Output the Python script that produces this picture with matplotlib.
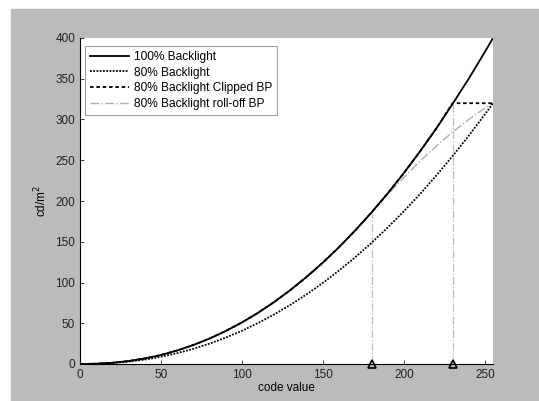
import matplotlib
matplotlib.use("Agg")
import matplotlib.pyplot as plt
from matplotlib.patches import Rectangle

plt.rcParams['font.family'] = ['Liberation Sans', 'DejaVu Sans']

# code values and luminance readings (cd/m^2)
code = [0, 10, 20, 30, 40, 50, 60, 70, 80, 90, 100, 110, 120, 130,
        140, 150, 160, 170, 180, 190, 200, 210, 220, 230, 240, 250, 255]
full = [0, 0.3, 1.5, 3.6, 6.8, 11, 16.6, 23.3, 31.2, 40.5, 51, 62.9, 76.2, 90.9,
        107, 124.5, 143.5, 164, 186, 209.4, 234.4, 261, 289, 319, 350, 383, 400]
dim80 = [0, 0.25, 1.2, 2.9, 5.4, 8.9, 13.3, 18.6, 25, 32.4, 40.8, 50.3, 61, 72.7,
         85.6, 99.6, 114.8, 131.1, 148.7, 167.5, 187.5, 208.7, 231.3, 255, 280, 306.3, 320]
clipped = [0, 0.3, 1.5, 3.6, 6.8, 11, 16.6, 23.3, 31.2, 40.5, 51, 62.9, 76.2, 90.9,
           107, 124.5, 143.5, 164, 186, 209.4, 234.4, 261, 289, 320, 320, 320, 320]
rolloff = [0, 0.3, 1.5, 3.6, 6.8, 11, 16.6, 23.3, 31.2, 40.5, 51, 62.9, 76.2, 90.9,
           107, 124.5, 143.5, 164, 186, 208, 229, 249, 267.5, 284.5, 300, 314, 320]

knee_code = [180, 230]
knee_val = [186, 320]

fig = plt.figure(figsize=(5.39, 4.01), dpi=100)
fig.patches.append(Rectangle((11 / 539, 0), 1, (401 - 9) / 401,
                             transform=fig.transFigure, color='#bbbbbb', zorder=-1))
ax = fig.add_axes([80 / 539, 37 / 401, 413 / 539, 326 / 401])

ax.plot(code, rolloff, color='#b0b0b0', lw=1.0, linestyle='-.', label='80% Backlight roll-off BP', zorder=1)
ax.plot(code, clipped, color='black', lw=1.3, linestyle=(0, (2, 1.5)), label='80% Backlight Clipped BP', zorder=2)
ax.plot(code, dim80, color='black', lw=1.3, linestyle=(0, (1, 0.8)), label='80% Backlight', zorder=2)
ax.plot(code, full, '-', color='black', lw=1.3, label='100% Backlight', zorder=3)

for xk, yk in zip(knee_code, knee_val):
    ax.plot([xk, xk], [0, yk], color='#c0c0c0', lw=0.9, linestyle='-.', zorder=0)
    ax.plot(xk, 0, marker='^', ms=6, mfc='none', mec='black', mew=1.2, clip_on=False)

ax.set_xlim(0, 255)
ax.set_ylim(0, 400)
ax.set_xticks([0, 50, 100, 150, 200, 250])
ax.set_yticks(range(0, 401, 50))
ax.spines['top'].set_visible(False)
ax.spines['right'].set_visible(False)
ax.tick_params(direction='in', length=3, labelsize=8.5, width=0.6, colors='#222222')
ax.set_xlabel('code value', fontsize=8.5, labelpad=1)
ax.set_ylabel('cd/m$^2$', fontsize=8.5, labelpad=4)

handles, labels = ax.get_legend_handles_labels()
leg = ax.legend(handles[::-1], labels[::-1], loc='upper left', fontsize=8.6, fancybox=False,
                handlelength=3.3, borderpad=0.4, labelspacing=0.32, handletextpad=0.4,
                borderaxespad=0, bbox_to_anchor=(5 / 413, 1 - 8 / 326))
leg.get_frame().set_edgecolor('#888888')
leg.get_frame().set_linewidth(0.8)

fig.savefig('out.png', dpi=100, facecolor='white')
